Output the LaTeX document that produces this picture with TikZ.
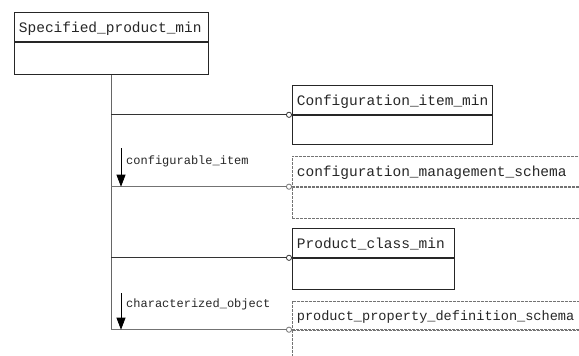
\documentclass[tikz,border=0pt]{standalone}
\usepackage{fontspec}
\setmonofont{Liberation Mono}
\usetikzlibrary{positioning,arrows.meta}

\tikzset{
	hdr/.style={draw=black!85,line width=0.8pt,anchor=north west,inner sep=0pt,
		minimum height=29pt,text depth=0pt,
		font=\fontsize{14.5}{16}\ttfamily,text=black!85,align=left,
		execute at begin node=\hspace*{3pt}},
	bdy/.style={draw=black!85,line width=0.8pt,anchor=north west,inner sep=0pt},
	schema/.style={draw=black!55,line width=0.7pt,dash pattern=on 3pt off 1pt},
	rel/.style={draw=black!80,line width=1.1pt,-{Circle[open,length=6pt,line width=0.8pt]}},
	srel/.style={draw=black!55,line width=0.7pt,-{Circle[open,length=6pt,line width=0.8pt]}},
	dir/.style={draw=black,line width=0.7pt,-{Triangle[length=12pt,width=9pt]}},
	lbl/.style={anchor=west,inner sep=0pt,font=\fontsize{12}{14}\ttfamily,text=black!85}
}

\begin{document}
\begin{tikzpicture}[x=1pt,y=-1pt]

	\useasboundingbox (0,0) rectangle (579,356);
	\clip (0,0) rectangle (579,356);

	% Main entity
	\node (spmh) [hdr,minimum width=194pt,text width=191pt] at (14,12) {Specified\_product\_min};
	\node (spmb) [bdy,minimum width=194pt,minimum height=32pt] at (spmh.south west) {};

	% Entities on the right
	\node (cimh) [hdr,minimum width=200pt,text width=197pt] at (292,85) {Configuration\_item\_min};
	\node (cimb) [bdy,minimum width=200pt,minimum height=29pt] at (cimh.south west) {};

	\node (pcmh) [hdr,minimum width=162pt,text width=159pt] at (292,228) {Product\_class\_min};
	\node (pcmb) [bdy,minimum width=162pt,minimum height=31pt] at (pcmh.south west) {};

	% Schemas (cut at the right)
	\node (cmsh) [hdr,schema,minimum width=300pt,text width=297pt,minimum height=30pt] at (292,156) {configuration\_management\_schema};
	\node (cmsb) [bdy,schema,minimum width=300pt,minimum height=31pt] at (cmsh.south west) {};

	\node (ppdh) [hdr,schema,minimum width=300pt,text width=297pt,minimum height=28pt,
		font=\fontsize{13.6}{16}\ttfamily] at (292,301) {product\_property\_definition\_schema};
	\node (ppdb) [bdy,schema,minimum width=300pt,minimum height=40pt] at (ppdh.south west) {};

	% Trunk
	\draw [black!60,line width=0.7pt] (spmb.south) -- (spmb.south |- ppdh.south west);

	% Relations
	\draw [rel] (spmb.south |- cimh.south west) -- (cimh.south west);
	\draw [srel] (spmb.south |- cmsh.south west) -- (cmsh.south west);
	\draw [rel] (spmb.south |- pcmh.south west) -- (pcmh.south west);
	\draw [srel] (spmb.south |- ppdh.south west) -- (ppdh.south west);

	% Direction marks
	\coordinate (d1s) at (121,148);
	\coordinate (d1e) at (d1s |- cmsh.south west);
	\draw [dir] (d1s) -- (d1e);
	\node (d1l) [lbl] at (126,161) {configurable\_item};

	\coordinate (d2s) at (121,293);
	\coordinate (d2e) at (d2s |- ppdh.south west);
	\draw [dir] (d2s) -- (d2e);
	\node (d2l) [lbl] at (126,304) {characterized\_object};

\end{tikzpicture}
\end{document}
